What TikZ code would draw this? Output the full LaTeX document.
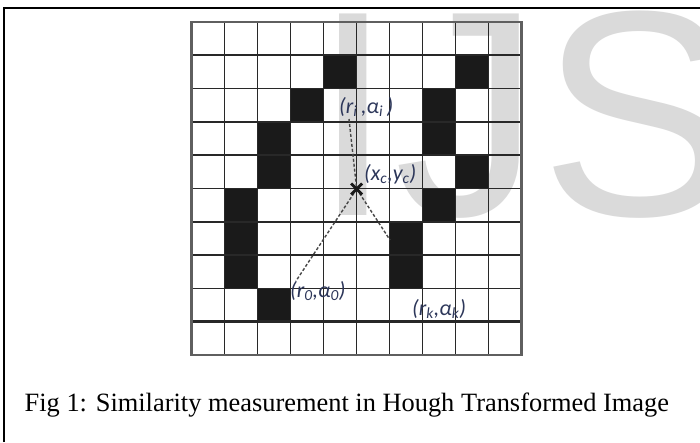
\documentclass[tikz,border=0pt]{standalone}
\usepackage{fontspec}
\setmainfont{Liberation Serif}
\newfontfamily\wmfont{Liberation Sans}
\newfontfamily\lblfont{Carlito}
\definecolor{wm}{RGB}{218,218,218}
\definecolor{lblc}{RGB}{45,55,90}
\definecolor{gridc}{RGB}{40,40,40}
\definecolor{cellc}{RGB}{26,26,26}
\definecolor{borderc}{RGB}{95,95,95}
\begin{document}
\begin{tikzpicture}[x=1pt,y=-1pt,
  lbl/.style={font=\lblfont\itshape\fontsize{22}{22}\selectfont, text=lblc, inner sep=0pt, anchor=west},
  dashln/.style={draw=black!72, line width=1.4pt, dash pattern=on 3pt off 2pt},
  gline/.style={draw=gridc, line width=1.7pt},
]
\useasboundingbox (0,0) rectangle (700,442);
\fill[white] (0,0) rectangle (700,442);
% watermark
\begin{scope}
\clip (0,0) rectangle (700,442);
\node[anchor=base west, inner sep=0pt, text=wm, font=\wmfont\fontsize{293}{293}\selectfont] (wmark) at (312.5,215) {IJSER};
\end{scope}
% grid
\begin{scope}[shift={(191.5,22)}, x=33pt, y=-33.3pt]
\foreach \c/\r in {4/1,8/1,3/2,7/2,2/3,7/3,2/4,8/4,1/5,7/5,1/6,6/6,1/7,6/7,2/8}
  \fill[cellc] (\c,\r) rectangle ++(1,1);
\foreach \i in {1,...,9} {
  \draw[gline] (\i,0) -- (\i,10);
  \draw[gline] (0,\i) -- (10,\i);
}
\draw[gline, line width=2.6pt] (0,9) -- (10,9);
\draw[draw=borderc, line width=2.8pt] (0,0) rectangle (10,10);
\end{scope}
% centre and connectors
\coordinate (xc) at (356.7,189);
\coordinate (e1) at (349,119);
\coordinate (e2) at (296,281);
\coordinate (e3) at (390,240);
\draw[dashln] (e1) -- (xc);
\draw[dashln] (xc) -- (e2);
\draw[dashln] (xc) -- (e3);
\draw[line width=2.8pt, cellc] ([shift={(-5.5,-5.5)}]xc) -- ([shift={(5.5,5.5)}]xc);
\draw[line width=2.8pt, cellc] ([shift={(-5.5,5.5)}]xc) -- ([shift={(5.5,-5.5)}]xc);
% labels
\node[lbl] (ri) at (339,107) {(r\textsubscript{i}\,,α\textsubscript{i}\,)};
\node[lbl] (xy) at (364,174) {(x\textsubscript{c},y\textsubscript{c})};
\node[lbl] (r0) at (290,291) {(r\textsubscript{0},α\textsubscript{0})};
\node[lbl] (rk) at (412,309) {(r\textsubscript{k},α\textsubscript{k})};
% caption
\node[anchor=base west, inner sep=0pt, font=\fontsize{26.4}{30}\selectfont] (cap) at (24.5,411.7) {Fig 1: Similarity measurement in Hough Transformed Image};
% frame
\draw[line width=2pt] (4.3,442) -- (4.3,8.3) -- (700,8.3);
\end{tikzpicture}
\end{document}
